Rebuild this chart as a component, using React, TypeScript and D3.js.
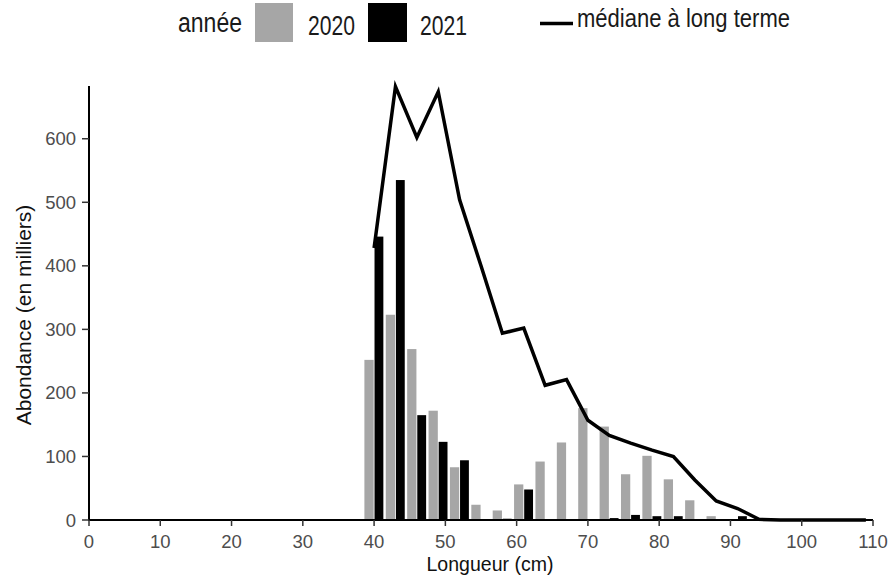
import React from "react";
import * as d3 from "d3";

const bins = [40, 43, 46, 49, 52, 55, 58, 61, 64, 67, 70, 73, 76, 79, 82, 85, 88, 91, 94];
const abund2020 = [252, 323, 269, 172, 83, 24, 15, 56, 92, 122, 176, 147, 72, 101, 64, 31, 6, 0, 1];
const abund2021 = [446, 535, 165, 123, 94, 0, 2, 48, 0, 0, 0, 3, 8, 6, 6, 0, 0, 6, 0];
const medianLengths = [40, 43, 46, 49, 52, 55, 58, 61, 64, 67, 70, 73, 76, 79, 82, 85, 88, 91, 94, 97, 100, 103, 106, 109];
const medianValues = [428, 682, 602, 674, 504, 400, 294, 302, 212, 221, 157, 133, 121, 110, 100, 63, 30, 18, 1, 0, 0, 0, 0, 0];
const xTicks = [0, 10, 20, 30, 40, 50, 60, 70, 80, 90, 100, 110];
const yTicks = [0, 100, 200, 300, 400, 500, 600];

const W = 891;
const H = 580;
const FONT = "'Liberation Sans', Arial, Helvetica, sans-serif";
const GREY = "#a6a6a6";
const TICK_COL = "#4d4d4d";

export default function App() {
  const x = d3.scaleLinear().domain([0, 110]).range([89, 873]);
  const y = d3.scaleLinear().domain([0, 683]).range([520, 86]);
  const line = d3
    .line<number>()
    .x((_, i) => x(medianLengths[i]))
    .y((d) => y(d))
    .curve(d3.curveLinear);

  const barW = x(1.3) - x(0);
  const gap = x(0.06) - x(0);

  return (
    <svg
      width={W}
      height={H}
      style={{ position: "absolute", left: 0, top: 0, background: "#fff" }}
      fontFamily={FONT}
    >
      <rect x={0} y={0} width={W} height={H} fill="#fff" />

      {/* legend */}
      <text x={178} y={32} fontSize={27} fill="#1a1a1a" textLength={64} lengthAdjust="spacingAndGlyphs">année</text>
      <rect x={255} y={3} width={38} height={39} fill={GREY} />
      <text x={308} y={35} fontSize={27} fill="#1a1a1a" textLength={47} lengthAdjust="spacingAndGlyphs">2020</text>
      <rect x={368} y={3} width={39} height={39} fill="#000" />
      <text x={420} y={35} fontSize={27} fill="#1a1a1a" textLength={47} lengthAdjust="spacingAndGlyphs">2021</text>
      <line x1={540} x2={573} y1={23.5} y2={23.5} stroke="#000" strokeWidth={3.5} />
      <text x={577} y={27} fontSize={25} fill="#1a1a1a" textLength={213} lengthAdjust="spacingAndGlyphs">médiane à long terme</text>

      {/* bars */}
      {bins.map((b, i) => (
        <g key={b}>
          {abund2020[i] > 0 && (
            <rect x={x(b) - barW - gap} y={y(abund2020[i])} width={barW} height={y(0) - y(abund2020[i])} fill={GREY} />
          )}
          {abund2021[i] > 0 && (
            <rect x={x(b) + gap} y={y(abund2021[i])} width={barW - gap} height={y(0) - y(abund2021[i])} fill="#000" />
          )}
        </g>
      ))}

      {/* median line */}
      <path d={line(medianValues) || ""} fill="none" stroke="#000" strokeWidth={3.5} strokeLinejoin="miter" />

      {/* axes */}
      <line x1={x(0)} x2={x(110)} y1={y(0)} y2={y(0)} stroke="#000" strokeWidth={2} />
      <line x1={x(0)} x2={x(0)} y1={86} y2={y(0) + 1} stroke="#000" strokeWidth={2} />
      {xTicks.map((t) => (
        <g key={t}>
          <line x1={x(t)} x2={x(t)} y1={y(0)} y2={y(0) + 6} stroke="#333" strokeWidth={1.5} />
          <text x={x(t)} y={548} fontSize={18.5} fill={TICK_COL} textAnchor="middle">{t}</text>
        </g>
      ))}
      {yTicks.map((t) => (
        <g key={t}>
          <line x1={x(0) - 7} x2={x(0)} y1={y(t)} y2={y(t)} stroke="#333" strokeWidth={1.5} />
          <text x={76} y={y(t) + 6.5} fontSize={18.5} fill={TICK_COL} textAnchor="end">{t}</text>
        </g>
      ))}

      {/* axis titles */}
      <text x={490} y={571} fontSize={21} fill="#111" textAnchor="middle" textLength={127} lengthAdjust="spacingAndGlyphs">Longueur (cm)</text>
      <text transform="translate(31,315) rotate(-90)" fontSize={21} fill="#111" textAnchor="middle">Abondance (en milliers)</text>
    </svg>
  );
}
